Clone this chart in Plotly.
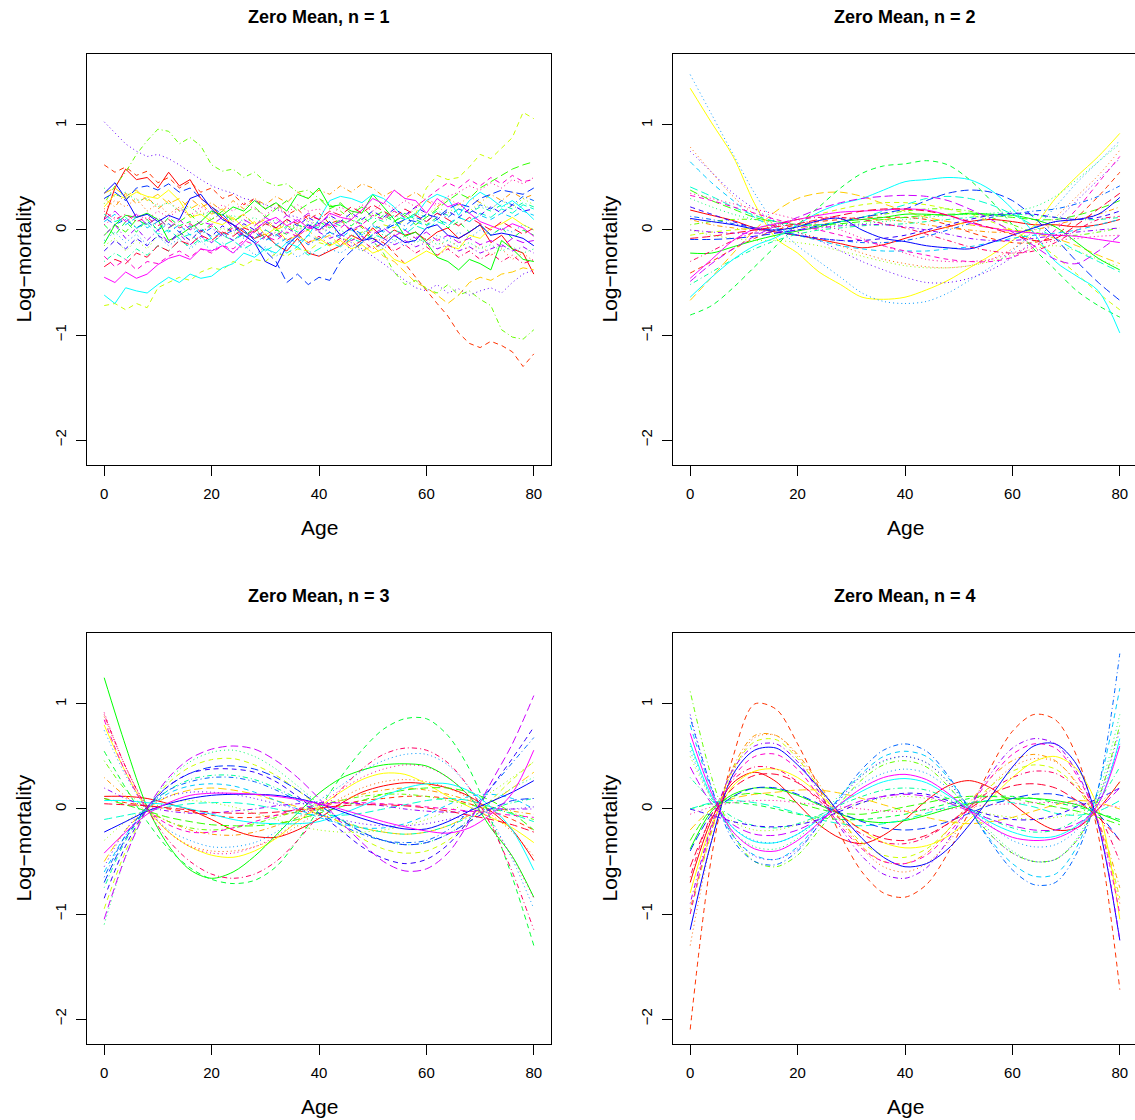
import colorsys
import plotly.graph_objects as go

# ---------------- data ----------------
AGES_N1 = list(range(0, 81, 2))       # raw (noisy) panel, every 2 years
AGES_SMOOTH = list(range(0, 81, 4))   # smoothed panels, every 4 years
PANEL_TITLES = ["Zero Mean, n = 1", "Zero Mean, n = 2", "Zero Mean, n = 3", "Zero Mean, n = 4"]
X_TICKS = [0, 20, 40, 60, 80]
Y_TICKS = [-2, -1, 0, 1]
X_LABEL = "Age"
Y_LABEL = "Log\u2212mortality"

N1_CURVES = [
    [0.10, 0.40, 0.58, 0.48, 0.50, 0.40, 0.55, 0.42, 0.48, 0.30, 0.22, 0.12, 0.05, -0.02, -0.08, -0.04, -0.14, -0.20, -0.08, -0.22, -0.25, -0.20, -0.15, -0.05, -0.10, 0.02, -0.08, 0.00, -0.05, -0.02, -0.10, -0.02, 0.02, -0.08, -0.02, 0.05, -0.12, -0.05, -0.18, -0.22, -0.42],
    [0.62, 0.55, 0.60, 0.52, 0.56, 0.45, 0.50, 0.40, 0.46, 0.36, 0.40, 0.30, 0.34, 0.24, 0.30, 0.20, 0.26, 0.14, 0.20, 0.10, 0.16, 0.06, 0.10, -0.02, 0.04, -0.08, -0.12, -0.22, -0.32, -0.45, -0.58, -0.70, -0.82, -0.98, -1.08, -1.12, -1.06, -1.10, -1.16, -1.30, -1.18],
    [0.20, 0.28, 0.22, 0.30, 0.18, 0.25, 0.15, 0.22, 0.12, 0.18, 0.10, 0.16, 0.08, 0.14, 0.05, 0.12, 0.02, 0.08, 0.00, 0.06, -0.02, 0.05, -0.05, 0.02, -0.08, 0.00, -0.10, -0.04, -0.12, -0.06, -0.14, -0.08, -0.18, -0.10, -0.20, -0.14, -0.24, -0.18, -0.28, -0.22, -0.30],
    [0.30, 0.22, 0.35, 0.25, 0.32, 0.20, 0.28, 0.18, 0.30, 0.22, 0.26, 0.18, 0.28, 0.20, 0.30, 0.24, 0.32, 0.26, 0.36, 0.30, 0.38, 0.34, 0.42, 0.36, 0.44, 0.40, 0.32, 0.38, 0.30, 0.36, 0.28, 0.22, 0.30, 0.24, 0.32, 0.26, 0.34, 0.28, 0.36, 0.30, 0.34],
    [0.35, 0.40, 0.32, 0.38, 0.28, 0.34, 0.25, 0.30, 0.20, 0.26, 0.15, 0.20, 0.10, 0.15, 0.05, 0.10, 0.00, 0.05, -0.05, 0.00, -0.10, -0.05, -0.15, -0.10, -0.20, -0.15, -0.25, -0.30, -0.40, -0.50, -0.55, -0.62, -0.70, -0.62, -0.50, -0.45, -0.48, -0.42, -0.40, -0.36, -0.38],
    [0.22, 0.34, 0.30, 0.36, 0.32, 0.30, 0.38, 0.28, 0.12, 0.15, 0.08, 0.05, 0.12, 0.02, 0.08, -0.05, 0.02, -0.10, -0.05, -0.12, -0.08, -0.15, -0.10, -0.18, -0.14, -0.22, -0.18, -0.28, -0.32, -0.26, -0.20, -0.25, -0.15, -0.18, -0.05, -0.08, 0.02, 0.06, 0.12, 0.05, 0.00],
    [-0.72, -0.70, -0.76, -0.70, -0.74, -0.55, -0.50, -0.45, -0.48, -0.40, -0.36, -0.38, -0.30, -0.34, -0.28, -0.30, -0.22, -0.25, -0.18, -0.20, -0.12, -0.15, -0.08, -0.10, -0.02, 0.00, 0.05, 0.02, 0.10, 0.15, 0.40, 0.52, 0.48, 0.50, 0.60, 0.72, 0.68, 0.78, 0.88, 1.12, 1.06],
    [-0.15, -0.08, -0.20, -0.10, -0.18, -0.05, -0.12, -0.02, -0.10, 0.00, -0.06, 0.02, -0.04, 0.04, -0.02, 0.06, 0.00, 0.08, 0.02, 0.10, 0.04, 0.12, 0.06, 0.14, 0.08, 0.16, 0.10, 0.18, 0.12, 0.20, 0.14, 0.22, 0.16, 0.24, 0.18, 0.26, 0.20, 0.28, 0.22, 0.30, 0.24],
    [0.25, 0.42, 0.55, 0.72, 0.85, 0.96, 0.94, 0.82, 0.88, 0.80, 0.62, 0.56, 0.58, 0.50, 0.55, 0.46, 0.42, 0.44, 0.36, 0.38, 0.30, 0.24, 0.18, 0.10, 0.02, -0.10, -0.22, -0.40, -0.52, -0.48, -0.56, -0.60, -0.52, -0.62, -0.58, -0.66, -0.72, -0.95, -1.02, -1.04, -0.95],
    [-0.05, 0.05, -0.02, 0.10, 0.05, 0.12, 0.02, 0.08, 0.15, 0.05, 0.10, 0.18, 0.08, 0.15, 0.22, 0.12, 0.20, 0.28, 0.18, 0.25, 0.30, 0.20, 0.26, 0.15, 0.22, 0.12, 0.18, 0.08, 0.14, 0.05, 0.12, 0.20, 0.28, 0.35, 0.30, 0.40, 0.46, 0.52, 0.58, 0.62, 0.65],
    [-0.13, 0.05, 0.14, 0.12, 0.16, 0.10, -0.10, -0.05, 0.02, 0.08, 0.18, 0.14, 0.22, 0.18, 0.28, 0.20, 0.26, 0.18, 0.34, 0.30, 0.40, 0.22, 0.24, 0.18, 0.16, 0.34, 0.22, 0.10, -0.06, -0.02, -0.12, -0.26, -0.30, -0.38, -0.28, -0.32, -0.38, -0.10, -0.18, -0.28, -0.30],
    [0.05, -0.05, 0.08, -0.02, 0.10, 0.00, 0.12, 0.04, 0.08, -0.02, 0.06, -0.04, 0.04, -0.06, 0.02, -0.08, 0.00, -0.04, 0.05, 0.00, 0.08, 0.02, 0.10, 0.04, 0.12, 0.06, 0.14, 0.08, 0.16, 0.10, 0.05, 0.12, 0.02, 0.08, -0.02, 0.05, -0.05, 0.02, -0.08, 0.00, -0.05],
    [0.40, 0.32, 0.36, 0.28, 0.30, 0.22, 0.26, 0.18, 0.22, 0.14, 0.18, 0.10, 0.14, 0.08, 0.12, 0.05, 0.10, 0.02, 0.06, 0.00, 0.04, -0.04, 0.00, -0.06, -0.02, -0.08, -0.04, -0.10, -0.06, -0.12, -0.08, -0.14, -0.10, -0.16, -0.12, -0.18, -0.14, -0.20, -0.16, -0.22, -0.18],
    [-0.30, -0.22, -0.28, -0.18, -0.24, -0.15, -0.20, -0.10, -0.16, -0.08, -0.12, -0.05, -0.10, -0.02, -0.08, 0.00, -0.05, 0.04, -0.02, 0.06, 0.02, 0.08, 0.04, 0.10, 0.06, 0.12, 0.08, 0.14, 0.10, 0.16, 0.12, 0.18, 0.14, 0.20, 0.16, 0.22, 0.18, 0.24, 0.20, 0.26, 0.22],
    [0.15, 0.08, 0.12, 0.02, 0.06, -0.04, 0.00, -0.08, -0.04, -0.12, -0.08, -0.15, -0.10, -0.18, -0.12, -0.20, -0.14, -0.22, -0.16, -0.24, -0.18, -0.12, -0.16, -0.08, -0.12, -0.04, -0.08, 0.00, -0.04, 0.04, 0.00, 0.08, 0.04, 0.12, 0.08, 0.16, 0.12, 0.20, 0.16, 0.24, 0.20],
    [-0.62, -0.70, -0.55, -0.58, -0.60, -0.52, -0.45, -0.50, -0.42, -0.46, -0.44, -0.36, -0.32, -0.22, -0.26, -0.18, -0.22, -0.12, -0.16, -0.05, 0.10, 0.28, 0.32, 0.30, 0.26, 0.34, 0.30, 0.22, 0.10, 0.14, 0.28, 0.34, 0.30, 0.14, 0.28, 0.36, 0.30, 0.22, 0.28, 0.20, 0.10],
    [0.08, 0.15, 0.05, 0.12, 0.02, 0.08, -0.02, 0.05, -0.05, 0.02, -0.08, -0.02, -0.10, -0.04, -0.12, -0.06, -0.14, -0.08, -0.12, -0.05, -0.10, -0.02, -0.08, 0.00, -0.05, 0.04, -0.02, 0.06, 0.00, 0.08, 0.04, 0.10, 0.06, 0.12, 0.08, 0.14, 0.10, 0.16, 0.12, 0.18, 0.14],
    [-0.10, -0.02, -0.12, -0.04, -0.14, -0.06, -0.15, -0.08, -0.18, -0.10, -0.20, -0.12, -0.22, -0.14, -0.24, -0.16, -0.25, -0.18, -0.26, -0.20, -0.25, -0.18, -0.22, -0.15, -0.20, -0.12, -0.18, -0.10, -0.15, -0.08, -0.12, -0.05, -0.10, -0.02, -0.08, 0.00, -0.05, 0.02, -0.02, 0.05, 0.00],
    [0.12, 0.05, 0.10, 0.02, 0.08, 0.00, 0.06, -0.02, 0.04, -0.04, 0.02, -0.06, 0.00, -0.08, -0.02, -0.10, -0.04, -0.12, -0.06, -0.14, -0.08, -0.02, -0.06, 0.02, -0.04, 0.05, 0.00, 0.08, 0.04, 0.12, 0.08, 0.16, 0.12, 0.20, 0.16, 0.24, 0.20, 0.28, 0.24, 0.32, 0.28],
    [0.30, 0.36, 0.28, 0.40, 0.42, 0.38, 0.44, 0.36, 0.40, 0.30, 0.22, 0.15, 0.05, 0.00, -0.10, -0.20, -0.30, -0.50, -0.42, -0.52, -0.45, -0.48, -0.30, -0.20, -0.12, -0.05, 0.00, 0.05, 0.10, 0.08, 0.15, 0.12, 0.20, 0.25, 0.22, 0.30, 0.34, 0.38, 0.36, 0.34, 0.40],
    [0.35, 0.45, 0.30, 0.12, 0.15, 0.08, 0.14, 0.10, 0.30, 0.34, 0.20, 0.10, 0.05, -0.05, -0.12, -0.30, -0.35, -0.15, -0.05, 0.05, 0.00, 0.08, -0.05, 0.02, -0.10, -0.08, -0.15, -0.05, -0.12, -0.10, 0.02, 0.05, -0.05, -0.08, -0.02, 0.05, -0.05, -0.03, -0.05, -0.08, -0.15],
    [-0.20, -0.10, -0.18, -0.08, -0.15, -0.05, -0.12, -0.02, -0.10, 0.00, -0.06, 0.04, -0.02, 0.06, 0.00, 0.08, 0.02, 0.10, 0.04, 0.12, 0.06, 0.14, 0.08, 0.16, 0.10, 0.18, 0.12, 0.20, 0.14, 0.22, 0.16, 0.10, 0.18, 0.12, 0.20, 0.14, 0.22, 0.16, 0.24, 0.18, 0.20],
    [1.03, 0.92, 0.82, 0.75, 0.70, 0.72, 0.68, 0.62, 0.55, 0.48, 0.42, 0.38, 0.35, 0.30, 0.28, 0.24, 0.20, 0.15, 0.12, 0.08, 0.04, -0.02, -0.08, -0.12, -0.18, -0.25, -0.32, -0.40, -0.48, -0.55, -0.58, -0.52, -0.60, -0.56, -0.62, -0.58, -0.55, -0.60, -0.50, -0.42, -0.38],
    [-0.05, 0.05, -0.08, 0.02, -0.10, 0.00, -0.12, -0.04, -0.14, -0.06, -0.12, -0.04, -0.10, -0.02, -0.08, 0.00, -0.06, 0.02, -0.04, 0.04, -0.02, -0.08, -0.04, -0.10, -0.06, -0.12, -0.08, -0.14, -0.10, -0.16, -0.12, -0.18, -0.14, -0.20, -0.16, -0.22, -0.18, -0.14, -0.20, -0.16, -0.22],
    [0.10, 0.18, 0.08, 0.15, 0.05, 0.12, 0.02, 0.10, 0.00, 0.08, 0.05, 0.12, 0.02, 0.10, 0.04, 0.12, 0.06, 0.14, 0.08, 0.16, 0.10, 0.04, 0.08, 0.00, 0.05, -0.04, 0.02, -0.06, 0.00, -0.08, -0.02, -0.10, -0.05, -0.12, -0.08, -0.14, -0.10, -0.16, -0.08, -0.12, -0.10],
    [-0.45, -0.50, -0.40, -0.46, -0.42, -0.33, -0.27, -0.24, -0.28, -0.18, -0.20, -0.15, -0.22, -0.12, 0.00, 0.08, 0.12, 0.04, 0.10, 0.02, 0.05, 0.16, 0.12, 0.10, 0.19, 0.30, 0.25, 0.38, 0.30, 0.28, 0.16, 0.30, 0.22, 0.26, 0.16, 0.08, 0.04, 0.00, 0.06, 0.02, -0.06],
    [-0.25, -0.35, -0.28, -0.38, -0.30, -0.32, -0.25, -0.20, -0.26, -0.18, -0.22, -0.15, -0.18, -0.10, -0.14, -0.06, -0.10, -0.02, -0.06, 0.02, 0.00, 0.06, 0.02, 0.10, 0.05, 0.14, 0.10, 0.18, 0.12, 0.22, 0.30, 0.38, 0.45, 0.40, 0.48, 0.42, 0.50, 0.44, 0.52, 0.46, 0.48],
    [0.05, 0.12, 0.08, 0.15, 0.10, 0.18, 0.12, 0.20, 0.14, 0.22, 0.16, 0.24, 0.18, 0.26, 0.20, 0.14, 0.22, 0.16, 0.24, 0.18, 0.20, 0.14, 0.22, 0.16, 0.24, 0.18, 0.26, 0.20, 0.28, 0.22, 0.30, 0.24, 0.32, 0.36, 0.42, 0.38, 0.45, 0.40, 0.48, 0.44, 0.50],
    [0.18, 0.10, 0.15, 0.08, 0.12, 0.04, 0.10, 0.02, 0.06, -0.02, 0.04, -0.04, 0.02, -0.06, 0.00, -0.08, -0.02, -0.10, -0.04, -0.12, -0.06, -0.14, -0.08, -0.16, -0.10, -0.18, -0.12, -0.20, -0.14, -0.22, -0.16, -0.24, -0.18, -0.26, -0.20, -0.28, -0.22, -0.30, -0.24, -0.32, -0.28],
    [-0.35, -0.28, -0.32, -0.22, -0.26, -0.15, -0.20, -0.10, -0.14, -0.05, -0.10, -0.02, -0.06, 0.02, -0.02, 0.06, 0.02, 0.10, 0.06, 0.14, 0.10, 0.18, 0.14, 0.22, 0.16, 0.24, 0.18, 0.12, 0.20, 0.14, 0.08, 0.16, 0.10, 0.04, 0.12, 0.06, 0.00, 0.08, 0.02, -0.04, 0.02],
]

N2_CURVES = [
    [0.19, 0.14, 0.09, 0.02, -0.02, -0.05, -0.09, -0.13, -0.17, -0.14, -0.08, -0.02, 0.03, 0.08, 0.10, 0.08, 0.05, 0.05, 0.03, 0.05, 0.10],
    [-0.41, -0.30, -0.18, -0.08, 0.00, 0.05, 0.08, 0.10, 0.12, 0.12, 0.12, 0.10, 0.05, -0.02, -0.08, -0.12, -0.12, -0.05, 0.12, 0.32, 0.55],
    [0.79, 0.55, 0.32, 0.15, 0.05, -0.02, -0.08, -0.15, -0.22, -0.28, -0.32, -0.35, -0.36, -0.34, -0.28, -0.18, -0.05, 0.12, 0.32, 0.52, 0.76],
    [0.10, 0.05, 0.02, 0.00, 0.00, 0.02, 0.05, 0.08, 0.10, 0.10, 0.08, 0.05, 0.02, 0.00, -0.02, -0.02, 0.00, 0.05, 0.10, 0.15, 0.22],
    [-0.67, -0.45, -0.22, 0.00, 0.18, 0.30, 0.35, 0.36, 0.32, 0.25, 0.18, 0.12, 0.08, 0.05, 0.02, 0.00, -0.03, -0.08, -0.15, -0.24, -0.32],
    [1.35, 1.02, 0.70, 0.25, -0.08, -0.22, -0.40, -0.52, -0.64, -0.66, -0.64, -0.57, -0.48, -0.36, -0.24, -0.10, 0.04, 0.30, 0.51, 0.70, 0.92],
    [-0.05, -0.02, 0.00, 0.02, 0.05, 0.10, 0.15, 0.20, 0.24, 0.26, 0.26, 0.24, 0.20, 0.15, 0.08, 0.00, -0.10, -0.25, -0.42, -0.60, -0.76],
    [0.00, -0.05, -0.08, -0.10, -0.10, -0.12, -0.15, -0.20, -0.25, -0.30, -0.34, -0.36, -0.36, -0.34, -0.30, -0.24, -0.18, -0.15, -0.20, -0.28, -0.35],
    [0.05, 0.08, 0.10, 0.10, 0.08, 0.05, 0.05, 0.08, 0.12, 0.15, 0.18, 0.20, 0.20, 0.18, 0.12, 0.05, -0.02, -0.05, -0.05, -0.02, 0.02],
    [0.38, 0.28, 0.20, 0.12, 0.08, 0.05, 0.05, 0.06, 0.08, 0.10, 0.12, 0.14, 0.15, 0.15, 0.14, 0.12, 0.10, 0.10, 0.14, 0.20, 0.28],
    [-0.22, -0.22, -0.16, -0.10, -0.05, -0.01, 0.03, 0.08, 0.10, 0.12, 0.15, 0.15, 0.14, 0.16, 0.15, 0.14, 0.10, 0.03, -0.12, -0.27, -0.38],
    [-0.81, -0.72, -0.55, -0.35, -0.15, 0.05, 0.22, 0.40, 0.54, 0.61, 0.63, 0.66, 0.62, 0.48, 0.28, 0.05, -0.18, -0.38, -0.58, -0.72, -0.83],
    [0.30, 0.22, 0.15, 0.10, 0.06, 0.04, 0.04, 0.05, 0.06, 0.08, 0.10, 0.12, 0.14, 0.15, 0.16, 0.18, 0.22, 0.32, 0.48, 0.65, 0.82],
    [-0.52, -0.40, -0.28, -0.18, -0.10, -0.04, 0.00, 0.02, 0.04, 0.05, 0.06, 0.08, 0.10, 0.12, 0.14, 0.15, 0.14, 0.12, 0.10, 0.10, 0.12],
    [0.41, 0.32, 0.22, 0.14, 0.08, 0.05, 0.05, 0.08, 0.12, 0.18, 0.24, 0.30, 0.32, 0.30, 0.24, 0.15, 0.04, -0.08, -0.20, -0.30, -0.40],
    [-0.64, -0.45, -0.28, -0.15, -0.07, 0.05, 0.17, 0.25, 0.30, 0.38, 0.46, 0.48, 0.50, 0.48, 0.38, 0.20, -0.03, -0.30, -0.44, -0.58, -0.98],
    [0.65, 0.45, 0.28, 0.12, 0.02, -0.05, -0.10, -0.15, -0.18, -0.20, -0.20, -0.20, -0.18, -0.16, -0.12, -0.08, -0.05, -0.03, 0.00, 0.05, 0.10],
    [1.48, 1.10, 0.72, 0.35, 0.05, -0.15, -0.30, -0.45, -0.60, -0.68, -0.70, -0.68, -0.60, -0.48, -0.35, -0.20, 0.00, 0.22, 0.45, 0.65, 0.85],
    [0.13, 0.10, 0.06, 0.02, 0.00, -0.05, -0.08, -0.10, -0.12, -0.12, -0.10, -0.06, 0.00, 0.06, 0.12, 0.15, 0.18, 0.20, 0.25, 0.32, 0.42],
    [-0.09, -0.09, -0.08, -0.06, -0.03, 0.00, 0.04, 0.08, 0.12, 0.16, 0.20, 0.28, 0.35, 0.38, 0.36, 0.28, 0.12, -0.08, -0.30, -0.50, -0.67],
    [0.11, 0.08, 0.05, 0.01, 0.00, 0.03, 0.09, 0.11, 0.00, -0.08, -0.11, -0.15, -0.17, -0.18, -0.12, -0.05, 0.02, 0.08, 0.10, 0.15, 0.31],
    [0.22, 0.15, 0.08, 0.02, -0.02, -0.05, -0.08, -0.10, -0.10, -0.08, -0.05, 0.00, 0.05, 0.10, 0.14, 0.16, 0.15, 0.12, 0.10, 0.12, 0.18],
    [0.75, 0.55, 0.35, 0.20, 0.08, -0.02, -0.10, -0.20, -0.30, -0.38, -0.45, -0.50, -0.50, -0.46, -0.38, -0.26, -0.10, 0.08, 0.28, 0.48, 0.68],
    [0.00, -0.02, -0.03, -0.03, -0.02, 0.00, 0.02, 0.04, 0.05, 0.05, 0.03, 0.00, -0.04, -0.08, -0.10, -0.10, -0.08, -0.05, -0.02, 0.00, 0.02],
    [-0.49, -0.32, -0.18, -0.06, 0.04, 0.12, 0.20, 0.26, 0.30, 0.32, 0.33, 0.32, 0.28, 0.20, 0.10, -0.02, -0.15, -0.28, -0.32, -0.20, -0.05],
    [-0.46, -0.28, -0.10, 0.01, 0.06, 0.10, 0.14, 0.17, 0.18, 0.19, 0.20, 0.19, 0.14, 0.07, 0.02, -0.01, -0.03, -0.05, -0.06, -0.09, -0.12],
    [0.33, 0.28, 0.22, 0.16, 0.10, 0.05, 0.00, -0.05, -0.10, -0.15, -0.20, -0.24, -0.28, -0.30, -0.30, -0.26, -0.16, 0.00, 0.20, 0.45, 0.70],
    [0.35, 0.30, 0.25, 0.20, 0.15, 0.10, 0.05, 0.00, -0.08, -0.15, -0.22, -0.28, -0.30, -0.30, -0.28, -0.22, -0.15, -0.10, -0.08, -0.06, -0.05],
    [-0.30, -0.20, -0.10, -0.02, 0.05, 0.10, 0.12, 0.12, 0.10, 0.06, 0.02, -0.04, -0.10, -0.16, -0.20, -0.22, -0.20, -0.12, 0.00, 0.10, 0.13],
    [-0.08, -0.06, -0.03, 0.00, 0.03, 0.06, 0.10, 0.14, 0.18, 0.20, 0.20, 0.18, 0.14, 0.08, 0.02, -0.04, -0.10, -0.08, 0.05, 0.20, 0.35],
]

N3_CURVES = [
    [0.12, 0.12, 0.10, 0.05, -0.01, -0.10, -0.20, -0.26, -0.27, -0.20, -0.09, 0.05, 0.16, 0.22, 0.25, 0.24, 0.20, 0.12, -0.02, -0.20, -0.49],
    [0.10, 0.06, 0.03, 0.00, -0.03, -0.06, -0.08, -0.08, -0.06, -0.03, 0.00, 0.04, 0.08, 0.10, 0.12, 0.12, 0.10, 0.05, -0.02, -0.10, -0.20],
    [0.88, 0.40, 0.02, -0.22, -0.35, -0.40, -0.40, -0.36, -0.28, -0.16, -0.02, 0.10, 0.20, 0.26, 0.28, 0.26, 0.20, 0.10, -0.05, -0.22, -0.45],
    [0.30, 0.12, -0.02, -0.12, -0.20, -0.24, -0.25, -0.22, -0.16, -0.08, 0.00, 0.08, 0.14, 0.18, 0.20, 0.18, 0.14, 0.08, 0.02, -0.02, -0.05],
    [-0.50, -0.20, 0.00, 0.12, 0.18, 0.20, 0.18, 0.14, 0.08, 0.02, -0.05, -0.12, -0.18, -0.22, -0.24, -0.22, -0.16, -0.06, 0.06, 0.20, 0.35],
    [0.80, 0.35, 0.00, -0.22, -0.36, -0.44, -0.46, -0.40, -0.28, -0.12, 0.02, 0.16, 0.28, 0.34, 0.33, 0.24, 0.12, 0.02, -0.08, -0.18, -0.32],
    [-0.95, -0.40, 0.00, 0.25, 0.40, 0.47, 0.48, 0.42, 0.32, 0.18, 0.02, -0.14, -0.28, -0.38, -0.42, -0.40, -0.30, -0.12, 0.08, 0.28, 0.45],
    [-0.30, -0.12, 0.00, 0.06, 0.08, 0.06, 0.02, -0.04, -0.10, -0.16, -0.20, -0.22, -0.22, -0.20, -0.16, -0.10, -0.02, 0.06, 0.16, 0.30, 0.45],
    [0.46, 0.18, 0.00, -0.12, -0.18, -0.20, -0.18, -0.14, -0.08, -0.02, 0.04, 0.08, 0.12, 0.14, 0.14, 0.12, 0.08, 0.04, 0.00, -0.04, -0.10],
    [0.10, 0.04, -0.02, -0.08, -0.12, -0.15, -0.16, -0.16, -0.14, -0.10, -0.04, 0.02, 0.08, 0.14, 0.18, 0.20, 0.20, 0.16, 0.08, -0.04, -0.20],
    [1.25, 0.60, 0.02, -0.35, -0.58, -0.66, -0.60, -0.45, -0.25, -0.04, 0.15, 0.29, 0.37, 0.42, 0.43, 0.41, 0.30, 0.12, -0.18, -0.45, -0.84],
    [0.55, 0.20, -0.12, -0.38, -0.56, -0.67, -0.71, -0.68, -0.55, -0.30, 0.00, 0.30, 0.56, 0.76, 0.86, 0.86, 0.70, 0.38, -0.10, -0.65, -1.30],
    [-1.10, -0.45, 0.00, 0.28, 0.45, 0.54, 0.56, 0.50, 0.38, 0.22, 0.05, -0.10, -0.22, -0.30, -0.34, -0.32, -0.24, -0.10, 0.06, 0.20, 0.30],
    [-0.75, -0.30, 0.00, 0.18, 0.28, 0.32, 0.32, 0.28, 0.20, 0.10, 0.00, -0.10, -0.18, -0.22, -0.24, -0.22, -0.16, -0.08, 0.00, 0.06, 0.10],
    [-0.10, -0.06, -0.02, 0.02, 0.05, 0.06, 0.06, 0.04, 0.00, -0.04, -0.06, -0.06, -0.04, 0.00, 0.04, 0.08, 0.10, 0.08, 0.02, -0.05, -0.12],
    [0.08, 0.08, 0.06, 0.04, 0.00, -0.05, -0.10, -0.13, -0.14, -0.14, -0.12, -0.05, 0.03, 0.12, 0.20, 0.24, 0.24, 0.17, 0.02, -0.20, -0.58],
    [-0.60, -0.25, 0.00, 0.15, 0.22, 0.24, 0.22, 0.16, 0.08, 0.00, -0.08, -0.14, -0.18, -0.18, -0.14, -0.06, 0.04, 0.12, 0.14, 0.10, 0.00],
    [0.75, 0.32, 0.00, -0.20, -0.30, -0.36, -0.36, -0.32, -0.22, -0.08, 0.08, 0.22, 0.36, 0.46, 0.52, 0.52, 0.42, 0.20, -0.10, -0.48, -0.95],
    [-0.65, -0.25, 0.02, 0.18, 0.26, 0.30, 0.30, 0.26, 0.18, 0.08, -0.04, -0.15, -0.24, -0.30, -0.32, -0.30, -0.20, -0.02, 0.20, 0.44, 0.68],
    [-0.70, -0.28, 0.02, 0.22, 0.34, 0.40, 0.41, 0.38, 0.30, 0.18, 0.04, -0.10, -0.22, -0.30, -0.34, -0.32, -0.24, -0.12, 0.00, 0.08, 0.10],
    [-0.22, -0.12, -0.02, 0.05, 0.10, 0.13, 0.14, 0.14, 0.13, 0.10, 0.05, -0.02, -0.09, -0.15, -0.19, -0.19, -0.12, -0.02, 0.07, 0.16, 0.27],
    [-0.85, -0.35, 0.00, 0.22, 0.34, 0.38, 0.38, 0.35, 0.26, 0.12, -0.04, -0.20, -0.36, -0.47, -0.52, -0.48, -0.34, -0.10, 0.20, 0.48, 0.78],
    [-0.55, -0.20, 0.02, 0.12, 0.16, 0.16, 0.14, 0.10, 0.05, 0.00, -0.05, -0.10, -0.14, -0.16, -0.16, -0.14, -0.10, -0.06, -0.02, 0.00, 0.02],
    [0.20, 0.10, 0.02, -0.02, -0.04, -0.04, -0.02, 0.00, 0.03, 0.05, 0.06, 0.06, 0.05, 0.03, 0.00, -0.02, -0.03, -0.02, 0.00, 0.00, 0.00],
    [-1.05, -0.45, 0.00, 0.30, 0.48, 0.57, 0.60, 0.57, 0.46, 0.30, 0.10, -0.12, -0.32, -0.50, -0.59, -0.57, -0.42, -0.12, 0.25, 0.62, 1.08],
    [-0.42, -0.22, -0.05, 0.06, 0.13, 0.15, 0.15, 0.14, 0.12, 0.09, 0.05, 0.00, -0.06, -0.12, -0.17, -0.21, -0.23, -0.18, -0.05, 0.15, 0.56],
    [0.85, 0.35, 0.00, -0.15, -0.22, -0.22, -0.18, -0.12, -0.06, 0.00, 0.04, 0.06, 0.06, 0.05, 0.04, 0.02, 0.00, -0.02, -0.04, -0.06, -0.08],
    [0.92, 0.40, 0.02, -0.22, -0.36, -0.42, -0.42, -0.36, -0.26, -0.12, 0.04, 0.18, 0.30, 0.38, 0.42, 0.40, 0.30, 0.12, -0.14, -0.46, -0.85],
    [0.90, 0.40, 0.00, -0.30, -0.50, -0.62, -0.66, -0.62, -0.50, -0.30, -0.06, 0.18, 0.38, 0.52, 0.58, 0.56, 0.44, 0.20, -0.15, -0.60, -1.15],
    [0.05, 0.04, 0.03, 0.01, -0.01, -0.03, -0.04, -0.04, -0.03, -0.01, 0.01, 0.03, 0.04, 0.04, 0.03, 0.01, -0.02, -0.06, -0.10, -0.15, -0.22],
]

N4_CURVES = [
    [-0.70, -0.10, 0.25, 0.35, 0.26, 0.05, -0.15, -0.28, -0.33, -0.25, -0.10, 0.08, 0.22, 0.27, 0.20, 0.05, -0.10, -0.20, -0.18, 0.00, 0.26],
    [-2.10, -0.45, 0.50, 1.00, 0.95, 0.62, 0.20, -0.25, -0.60, -0.80, -0.84, -0.72, -0.42, -0.02, 0.40, 0.74, 0.90, 0.85, 0.50, -0.25, -1.72],
    [-1.30, -0.30, 0.35, 0.68, 0.70, 0.50, 0.20, -0.12, -0.38, -0.55, -0.60, -0.52, -0.32, -0.05, 0.22, 0.40, 0.48, 0.45, 0.25, -0.15, -0.90],
    [-0.95, -0.20, 0.40, 0.70, 0.70, 0.52, 0.24, -0.08, -0.36, -0.50, -0.52, -0.42, -0.20, 0.06, 0.30, 0.46, 0.52, 0.46, 0.24, -0.12, -0.75],
    [-0.20, 0.00, 0.10, 0.14, 0.16, 0.18, 0.18, 0.15, 0.10, 0.04, -0.02, -0.08, -0.12, -0.14, -0.12, -0.08, -0.02, 0.04, 0.08, 0.06, 0.00],
    [-0.80, -0.15, 0.22, 0.36, 0.38, 0.30, 0.14, -0.05, -0.20, -0.32, -0.37, -0.35, -0.26, -0.10, 0.10, 0.30, 0.45, 0.50, 0.38, 0.00, -1.05],
    [-1.00, -0.22, 0.38, 0.64, 0.66, 0.48, 0.20, -0.10, -0.32, -0.44, -0.46, -0.38, -0.20, 0.02, 0.22, 0.36, 0.42, 0.38, 0.20, -0.14, -0.85],
    [0.50, 0.10, -0.12, -0.20, -0.20, -0.15, -0.08, 0.00, 0.06, 0.10, 0.12, 0.10, 0.06, 0.00, -0.05, -0.08, -0.10, -0.08, -0.04, 0.05, 0.25],
    [1.12, 0.30, -0.25, -0.50, -0.55, -0.44, -0.20, 0.06, 0.28, 0.42, 0.46, 0.40, 0.22, -0.02, -0.25, -0.42, -0.50, -0.48, -0.30, 0.10, 0.80],
    [-0.30, 0.00, 0.12, 0.15, 0.12, 0.06, 0.00, -0.04, -0.05, -0.02, 0.02, 0.06, 0.10, 0.12, 0.12, 0.10, 0.06, 0.02, -0.02, -0.08, -0.15],
    [-0.38, -0.02, 0.14, 0.20, 0.19, 0.13, 0.04, -0.05, -0.11, -0.13, -0.11, -0.06, 0.00, 0.05, 0.08, 0.10, 0.10, 0.08, 0.04, -0.04, -0.12],
    [0.00, 0.05, 0.06, 0.04, 0.00, -0.05, -0.08, -0.10, -0.10, -0.08, -0.05, 0.00, 0.05, 0.10, 0.12, 0.12, 0.10, 0.06, 0.02, -0.04, -0.10],
    [0.60, 0.10, -0.22, -0.36, -0.38, -0.28, -0.08, 0.14, 0.32, 0.45, 0.50, 0.44, 0.26, 0.02, -0.22, -0.40, -0.50, -0.48, -0.28, 0.15, 0.90],
    [0.30, 0.08, -0.08, -0.16, -0.18, -0.14, -0.06, 0.04, 0.12, 0.18, 0.20, 0.18, 0.10, 0.00, -0.10, -0.18, -0.22, -0.20, -0.10, 0.08, 0.40],
    [0.00, 0.06, 0.08, 0.06, 0.02, -0.04, -0.10, -0.14, -0.16, -0.14, -0.10, -0.04, 0.02, 0.06, 0.08, 0.06, 0.02, -0.04, -0.06, -0.02, 0.08],
    [0.63, 0.12, -0.18, -0.31, -0.32, -0.24, -0.10, 0.05, 0.17, 0.26, 0.29, 0.25, 0.13, 0.00, -0.13, -0.22, -0.27, -0.26, -0.16, 0.05, 0.67],
    [0.80, 0.18, -0.26, -0.44, -0.48, -0.36, -0.12, 0.12, 0.34, 0.50, 0.55, 0.50, 0.30, 0.00, -0.30, -0.52, -0.64, -0.62, -0.36, 0.20, 1.15],
    [0.55, 0.10, -0.18, -0.30, -0.32, -0.24, -0.08, 0.10, 0.24, 0.34, 0.38, 0.34, 0.20, 0.02, -0.16, -0.30, -0.36, -0.34, -0.20, 0.10, 0.62],
    [0.87, 0.20, -0.30, -0.50, -0.53, -0.40, -0.15, 0.12, 0.38, 0.56, 0.62, 0.55, 0.32, 0.00, -0.32, -0.58, -0.72, -0.70, -0.42, 0.20, 1.48],
    [-0.40, -0.05, 0.12, 0.20, 0.20, 0.14, 0.05, -0.04, -0.12, -0.18, -0.20, -0.18, -0.12, -0.04, 0.04, 0.10, 0.14, 0.14, 0.08, -0.05, -0.30],
    [-1.15, -0.30, 0.33, 0.56, 0.58, 0.42, 0.20, -0.05, -0.28, -0.46, -0.55, -0.52, -0.38, -0.15, 0.12, 0.40, 0.60, 0.62, 0.42, -0.15, -1.25],
    [0.00, -0.06, -0.12, -0.16, -0.17, -0.15, -0.10, -0.02, 0.06, 0.12, 0.15, 0.14, 0.08, 0.00, -0.06, -0.10, -0.10, -0.06, 0.02, 0.10, 0.20],
    [0.90, 0.20, -0.25, -0.45, -0.48, -0.38, -0.15, 0.10, 0.32, 0.46, 0.50, 0.44, 0.26, 0.00, -0.25, -0.42, -0.50, -0.48, -0.30, 0.10, 0.75],
    [-0.90, -0.15, 0.38, 0.60, 0.62, 0.45, 0.16, -0.18, -0.45, -0.62, -0.66, -0.56, -0.30, 0.02, 0.34, 0.58, 0.67, 0.62, 0.35, -0.15, -1.25],
    [0.40, 0.05, -0.15, -0.24, -0.25, -0.20, -0.10, 0.00, 0.08, 0.12, 0.14, 0.12, 0.06, -0.02, -0.10, -0.16, -0.20, -0.20, -0.14, 0.00, 0.20],
    [0.72, 0.15, -0.22, -0.38, -0.40, -0.30, -0.13, 0.05, 0.20, 0.30, 0.33, 0.28, 0.15, -0.02, -0.17, -0.27, -0.30, -0.28, -0.18, 0.05, 0.60],
    [-1.00, -0.18, 0.30, 0.50, 0.52, 0.38, 0.12, -0.16, -0.38, -0.50, -0.52, -0.44, -0.24, 0.02, 0.30, 0.52, 0.62, 0.58, 0.32, -0.12, -1.00],
    [-0.05, 0.02, 0.06, 0.08, 0.08, 0.06, 0.04, 0.02, 0.00, -0.02, -0.02, -0.01, 0.00, 0.02, 0.04, 0.05, 0.06, 0.06, 0.05, 0.04, 0.02],
    [-0.65, -0.05, 0.28, 0.40, 0.38, 0.26, 0.08, -0.10, -0.24, -0.32, -0.33, -0.27, -0.14, 0.02, 0.18, 0.30, 0.36, 0.34, 0.20, -0.05, -0.50],
    [-0.55, -0.08, 0.20, 0.32, 0.33, 0.25, 0.10, -0.06, -0.20, -0.28, -0.30, -0.25, -0.14, 0.00, 0.14, 0.22, 0.24, 0.20, 0.08, -0.08, -0.30],
]

for arr, n in ((N1_CURVES, len(AGES_N1)), (N2_CURVES, len(AGES_SMOOTH)),
               (N3_CURVES, len(AGES_SMOOTH)), (N4_CURVES, len(AGES_SMOOTH))):
    assert len(arr) == 30
    for row in arr:
        assert len(row) == n, (len(row), n)

# ---------------- style ----------------
W, H = 1135, 1120
NCURVE = 30
COLORS = ["#%02X%02X%02X" % tuple(int(round(c * 255)) for c in colorsys.hsv_to_rgb(i / NCURVE, 1, 1))
          for i in range(NCURVE)]
DASHES = ["solid", "5px,4px", "1px,3px", "1px,3px,5px,3px", "8px,4px"]
FONT = "Liberation Sans"
XR = (-3.2, 83.2)
YR = (-2.238, 1.676)

# panel boxes in pixels: (left, right, top, bottom)
BOXES = [(87, 551, 54, 465), (673, 1137, 54, 465), (87, 551, 633, 1044), (673, 1137, 633, 1044)]
PANELS = [(N1_CURVES, AGES_N1, "linear"), (N2_CURVES, AGES_SMOOTH, "spline"),
          (N3_CURVES, AGES_SMOOTH, "spline"), (N4_CURVES, AGES_SMOOTH, "spline")]

fig = go.Figure()
layout = dict(width=W, height=H, margin=dict(l=0, r=0, t=0, b=0),
              paper_bgcolor="white", plot_bgcolor="white", showlegend=False,
              hovermode=False, annotations=[])

for k, ((curves, ages, shape), (L, R, T, B)) in enumerate(zip(PANELS, BOXES)):
    sfx = "" if k == 0 else str(k + 1)
    Rc = min(R, W)
    xr1 = XR[0] + (XR[1] - XR[0]) * (Rc - L) / (R - L)
    for i, ys in enumerate(curves):
        line = dict(color=COLORS[i], width=1, dash=DASHES[i % 5])
        if shape == "spline":
            line["shape"] = "spline"
            line["smoothing"] = 0.9
        fig.add_trace(go.Scatter(x=ages, y=ys, mode="lines", line=line,
                                 xaxis="x" + sfx, yaxis="y" + sfx, hoverinfo="skip"))
    layout["xaxis" + sfx] = dict(
        domain=[L / W, Rc / W], range=[XR[0], xr1], anchor="y" + sfx,
        tickvals=X_TICKS, ticks="outside", ticklen=10, tickwidth=1, tickcolor="black",
        showline=True, linewidth=1, linecolor="black", mirror=True,
        showgrid=False, zeroline=False, ticklabelstandoff=5,
        tickfont=dict(family=FONT, size=15, color="black"))
    layout["yaxis" + sfx] = dict(
        domain=[1 - B / H, 1 - T / H], range=list(YR), anchor="x" + sfx,
        tickvals=Y_TICKS, ticks="outside", ticklen=10, tickwidth=1, tickcolor="black",
        tickangle=-90, showline=True, linewidth=1, linecolor="black",
        mirror=(R <= W), showgrid=False, zeroline=False, ticklabelstandoff=4,
        tickfont=dict(family=FONT, size=15, color="black"))
    cx = (L + R) / 2 / W
    layout["annotations"] += [
        dict(text="<b>%s</b>" % PANEL_TITLES[k], x=cx, y=1 - (T - 37) / H, xref="paper", yref="paper",
             showarrow=False, xanchor="center", yanchor="middle",
             font=dict(family=FONT, size=18, color="black")),
        dict(text=X_LABEL, x=cx, y=1 - (B + 62) / H, xref="paper", yref="paper",
             showarrow=False, xanchor="center", yanchor="middle",
             font=dict(family=FONT, size=21, color="black")),
        dict(text=Y_LABEL, x=(L - 64) / W, y=1 - (T + B) / 2 / H, xref="paper", yref="paper",
             showarrow=False, xanchor="center", yanchor="middle", textangle=-90,
             font=dict(family=FONT, size=21, color="black")),
    ]

fig.update_layout(**layout)
fig.write_html("out.html", config={"displayModeBar": False},
               post_script="document.body.style.margin='0';document.body.style.overflow='hidden';")
